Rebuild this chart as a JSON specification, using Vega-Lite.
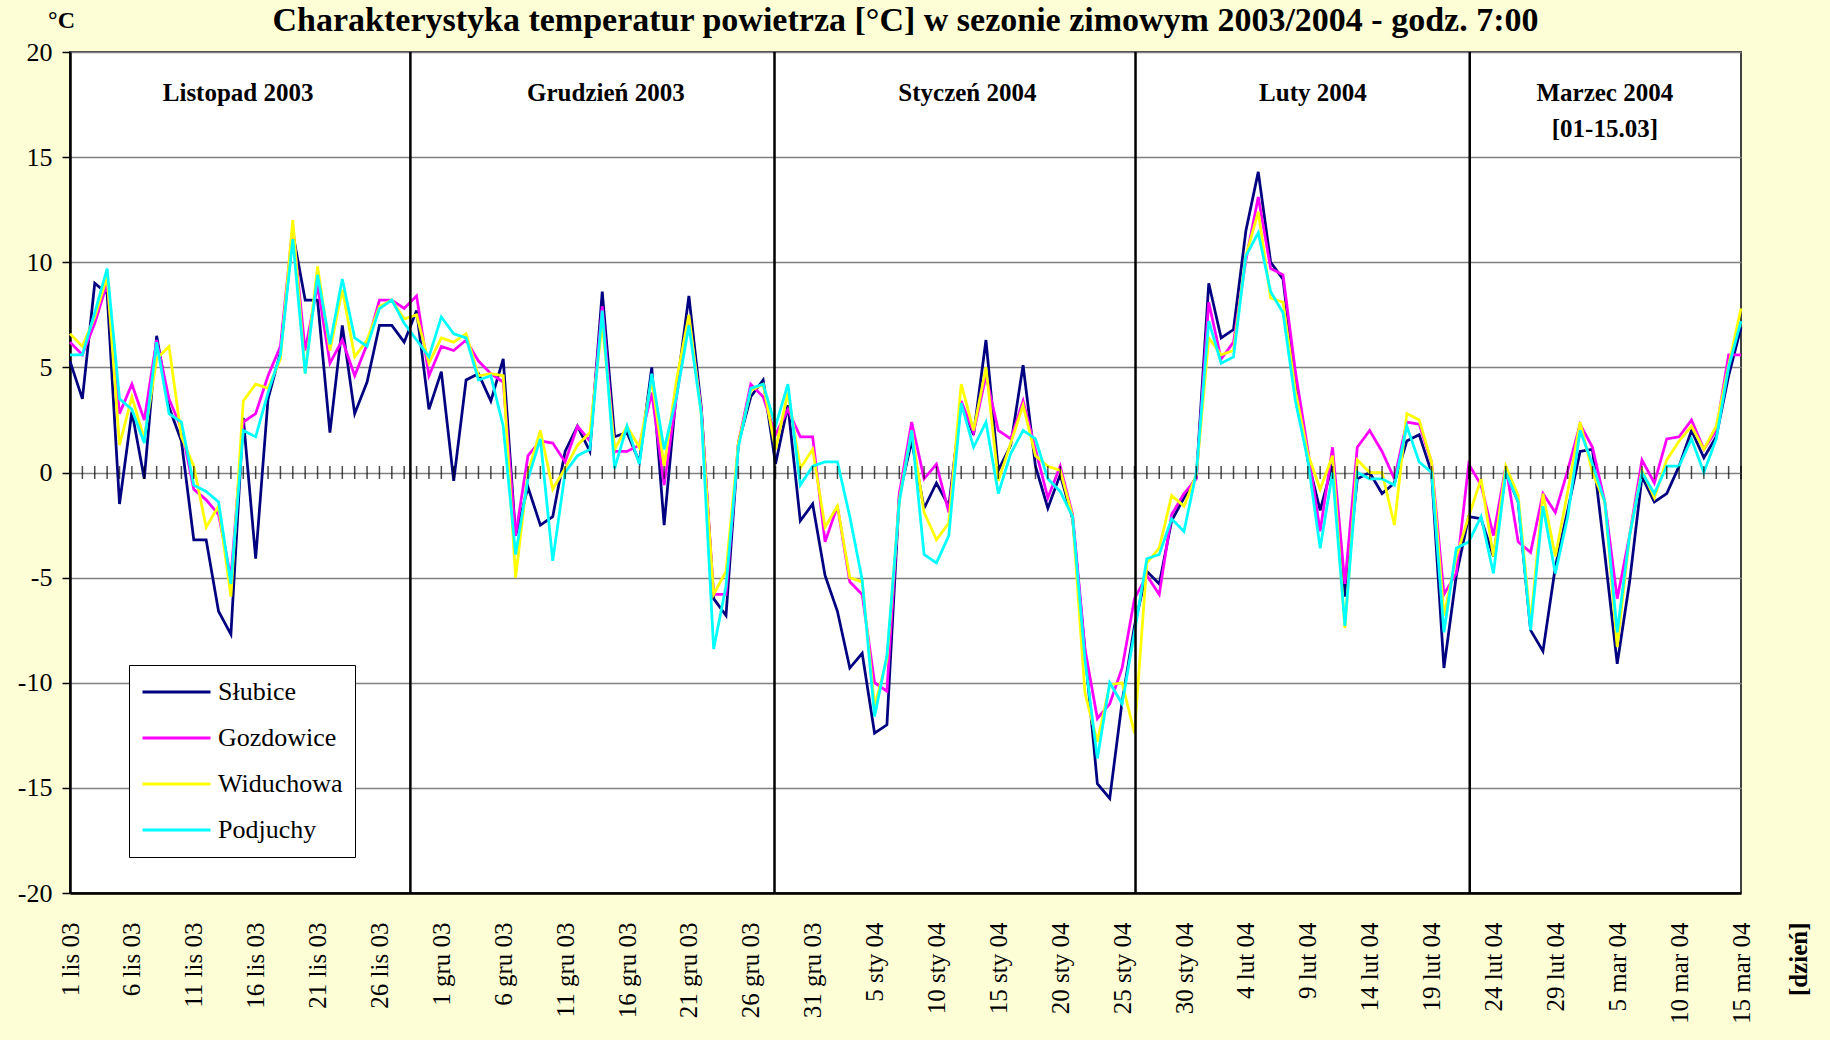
{
  "$schema": "https://vega.github.io/schema/vega-lite/v6.json",
  "width": 1671,
  "height": 841,
  "autosize": {"type": "none"},
  "padding": {"left": 70, "top": 52, "right": 89, "bottom": 147},
  "background": "#FEFED6",
  "title": {
    "text": "Charakterystyka temperatur powietrza [°C] w sezonie zimowym 2003/2004 - godz. 7:00",
    "font": "Liberation Serif", "fontSize": 34, "fontWeight": "bold", "color": "black",
    "anchor": "middle", "frame": "group", "baseline": "alphabetic", "offset": 6, "dy": 63
  },
  "config": {
    "view": {"fill": "white", "stroke": "#404040", "strokeWidth": 2},
    "font": "Liberation Serif"
  },
  "data": {"values": [
    {"data":"2003-11-01T00:00:00","Słubice":5.3,"Gozdowice":6.2,"Widuchowa":6.6,"Podjuchy":5.6},
    {"data":"2003-11-02T00:00:00","Słubice":3.5,"Gozdowice":5.6,"Widuchowa":6.0,"Podjuchy":5.6},
    {"data":"2003-11-03T00:00:00","Słubice":9.0,"Gozdowice":7.1,"Widuchowa":7.4,"Podjuchy":7.6},
    {"data":"2003-11-04T00:00:00","Słubice":8.5,"Gozdowice":9.0,"Widuchowa":9.3,"Podjuchy":9.7},
    {"data":"2003-11-05T00:00:00","Słubice":-1.5,"Gozdowice":2.8,"Widuchowa":1.3,"Podjuchy":3.5},
    {"data":"2003-11-06T00:00:00","Słubice":2.9,"Gozdowice":4.2,"Widuchowa":3.6,"Podjuchy":3.0},
    {"data":"2003-11-07T00:00:00","Słubice":-0.3,"Gozdowice":2.5,"Widuchowa":1.6,"Podjuchy":1.4},
    {"data":"2003-11-08T00:00:00","Słubice":6.5,"Gozdowice":6.3,"Widuchowa":5.4,"Podjuchy":6.2},
    {"data":"2003-11-09T00:00:00","Słubice":3.1,"Gozdowice":3.5,"Widuchowa":6.0,"Podjuchy":2.8},
    {"data":"2003-11-10T00:00:00","Słubice":1.5,"Gozdowice":2.1,"Widuchowa":1.7,"Podjuchy":2.4},
    {"data":"2003-11-11T00:00:00","Słubice":-3.2,"Gozdowice":-0.8,"Widuchowa":0.3,"Podjuchy":-0.6},
    {"data":"2003-11-12T00:00:00","Słubice":-3.2,"Gozdowice":-1.3,"Widuchowa":-2.6,"Podjuchy":-0.9},
    {"data":"2003-11-13T00:00:00","Słubice":-6.6,"Gozdowice":-2.0,"Widuchowa":-1.6,"Podjuchy":-1.4},
    {"data":"2003-11-14T00:00:00","Słubice":-7.7,"Gozdowice":-5.0,"Widuchowa":-5.9,"Podjuchy":-5.3},
    {"data":"2003-11-15T00:00:00","Słubice":2.6,"Gozdowice":2.4,"Widuchowa":3.4,"Podjuchy":2.0},
    {"data":"2003-11-16T00:00:00","Słubice":-4.1,"Gozdowice":2.8,"Widuchowa":4.2,"Podjuchy":1.7},
    {"data":"2003-11-17T00:00:00","Słubice":3.5,"Gozdowice":4.6,"Widuchowa":4.0,"Podjuchy":3.8},
    {"data":"2003-11-18T00:00:00","Słubice":5.7,"Gozdowice":6.0,"Widuchowa":5.4,"Podjuchy":5.6},
    {"data":"2003-11-19T00:00:00","Słubice":11.4,"Gozdowice":11.7,"Widuchowa":12.0,"Podjuchy":11.1},
    {"data":"2003-11-20T00:00:00","Słubice":8.2,"Gozdowice":5.8,"Widuchowa":4.7,"Podjuchy":4.7},
    {"data":"2003-11-21T00:00:00","Słubice":8.2,"Gozdowice":8.9,"Widuchowa":9.8,"Podjuchy":9.4},
    {"data":"2003-11-22T00:00:00","Słubice":1.9,"Gozdowice":5.2,"Widuchowa":5.8,"Podjuchy":6.1},
    {"data":"2003-11-23T00:00:00","Słubice":7.0,"Gozdowice":6.3,"Widuchowa":8.7,"Podjuchy":9.2},
    {"data":"2003-11-24T00:00:00","Słubice":2.8,"Gozdowice":4.6,"Widuchowa":5.5,"Podjuchy":6.4},
    {"data":"2003-11-25T00:00:00","Słubice":4.3,"Gozdowice":6.1,"Widuchowa":6.3,"Podjuchy":6.0},
    {"data":"2003-11-26T00:00:00","Słubice":7.0,"Gozdowice":8.2,"Widuchowa":7.9,"Podjuchy":7.8},
    {"data":"2003-11-27T00:00:00","Słubice":7.0,"Gozdowice":8.2,"Widuchowa":8.2,"Podjuchy":8.2},
    {"data":"2003-11-28T00:00:00","Słubice":6.2,"Gozdowice":7.8,"Widuchowa":7.3,"Podjuchy":7.1},
    {"data":"2003-11-29T00:00:00","Słubice":7.7,"Gozdowice":8.4,"Widuchowa":7.5,"Podjuchy":6.3},
    {"data":"2003-11-30T00:00:00","Słubice":3.0,"Gozdowice":4.6,"Widuchowa":5.2,"Podjuchy":5.5},
    {"data":"2003-12-01T00:00:00","Słubice":4.8,"Gozdowice":6.0,"Widuchowa":6.4,"Podjuchy":7.4},
    {"data":"2003-12-02T00:00:00","Słubice":-0.4,"Gozdowice":5.8,"Widuchowa":6.2,"Podjuchy":6.6},
    {"data":"2003-12-03T00:00:00","Słubice":4.4,"Gozdowice":6.3,"Widuchowa":6.6,"Podjuchy":6.4},
    {"data":"2003-12-04T00:00:00","Słubice":4.7,"Gozdowice":5.3,"Widuchowa":4.6,"Podjuchy":4.4},
    {"data":"2003-12-05T00:00:00","Słubice":3.4,"Gozdowice":4.7,"Widuchowa":4.7,"Podjuchy":4.6},
    {"data":"2003-12-06T00:00:00","Słubice":5.4,"Gozdowice":4.3,"Widuchowa":4.6,"Podjuchy":2.2},
    {"data":"2003-12-07T00:00:00","Słubice":-3.0,"Gozdowice":-3.0,"Widuchowa":-5.0,"Podjuchy":-3.9},
    {"data":"2003-12-08T00:00:00","Słubice":-0.7,"Gozdowice":0.8,"Widuchowa":0.0,"Podjuchy":-0.3},
    {"data":"2003-12-09T00:00:00","Słubice":-2.5,"Gozdowice":1.5,"Widuchowa":2.0,"Podjuchy":1.6},
    {"data":"2003-12-10T00:00:00","Słubice":-2.1,"Gozdowice":1.4,"Widuchowa":-0.8,"Podjuchy":-4.2},
    {"data":"2003-12-11T00:00:00","Słubice":1.0,"Gozdowice":0.5,"Widuchowa":0.2,"Podjuchy":0.0},
    {"data":"2003-12-12T00:00:00","Słubice":2.2,"Gozdowice":2.2,"Widuchowa":1.3,"Podjuchy":0.8},
    {"data":"2003-12-13T00:00:00","Słubice":1.0,"Gozdowice":1.5,"Widuchowa":1.9,"Podjuchy":1.1},
    {"data":"2003-12-14T00:00:00","Słubice":8.6,"Gozdowice":7.9,"Widuchowa":7.1,"Podjuchy":7.7},
    {"data":"2003-12-15T00:00:00","Słubice":1.7,"Gozdowice":1.0,"Widuchowa":1.1,"Podjuchy":0.2},
    {"data":"2003-12-16T00:00:00","Słubice":1.9,"Gozdowice":1.0,"Widuchowa":2.2,"Podjuchy":2.2},
    {"data":"2003-12-17T00:00:00","Słubice":0.5,"Gozdowice":1.3,"Widuchowa":1.2,"Podjuchy":0.4},
    {"data":"2003-12-18T00:00:00","Słubice":5.0,"Gozdowice":3.8,"Widuchowa":4.4,"Podjuchy":4.7},
    {"data":"2003-12-19T00:00:00","Słubice":-2.5,"Gozdowice":-0.6,"Widuchowa":0.3,"Podjuchy":1.1},
    {"data":"2003-12-20T00:00:00","Słubice":3.9,"Gozdowice":3.6,"Widuchowa":4.4,"Podjuchy":3.6},
    {"data":"2003-12-21T00:00:00","Słubice":8.4,"Gozdowice":7.3,"Widuchowa":7.5,"Podjuchy":7.0},
    {"data":"2003-12-22T00:00:00","Słubice":3.1,"Gozdowice":3.0,"Widuchowa":2.8,"Podjuchy":2.8},
    {"data":"2003-12-23T00:00:00","Słubice":-6.0,"Gozdowice":-5.8,"Widuchowa":-5.8,"Podjuchy":-8.4},
    {"data":"2003-12-24T00:00:00","Słubice":-6.8,"Gozdowice":-5.8,"Widuchowa":-4.7,"Podjuchy":-5.4},
    {"data":"2003-12-25T00:00:00","Słubice":1.4,"Gozdowice":1.4,"Widuchowa":1.4,"Podjuchy":1.2},
    {"data":"2003-12-26T00:00:00","Słubice":3.6,"Gozdowice":4.2,"Widuchowa":3.9,"Podjuchy":4.0},
    {"data":"2003-12-27T00:00:00","Słubice":4.4,"Gozdowice":3.6,"Widuchowa":4.2,"Podjuchy":4.2},
    {"data":"2003-12-28T00:00:00","Słubice":0.4,"Gozdowice":1.8,"Widuchowa":1.1,"Podjuchy":2.2},
    {"data":"2003-12-29T00:00:00","Słubice":3.2,"Gozdowice":3.0,"Widuchowa":3.8,"Podjuchy":4.2},
    {"data":"2003-12-30T00:00:00","Słubice":-2.3,"Gozdowice":1.7,"Widuchowa":0.2,"Podjuchy":-0.6},
    {"data":"2003-12-31T00:00:00","Słubice":-1.5,"Gozdowice":1.7,"Widuchowa":1.1,"Podjuchy":0.3},
    {"data":"2004-01-01T00:00:00","Słubice":-4.9,"Gozdowice":-3.3,"Widuchowa":-2.6,"Podjuchy":0.5},
    {"data":"2004-01-02T00:00:00","Słubice":-6.6,"Gozdowice":-1.6,"Widuchowa":-1.6,"Podjuchy":0.5},
    {"data":"2004-01-03T00:00:00","Słubice":-9.3,"Gozdowice":-5.2,"Widuchowa":-5.0,"Podjuchy":-2.1},
    {"data":"2004-01-04T00:00:00","Słubice":-8.6,"Gozdowice":-5.8,"Widuchowa":-5.2,"Podjuchy":-5.1},
    {"data":"2004-01-05T00:00:00","Słubice":-12.4,"Gozdowice":-10.0,"Widuchowa":-11.1,"Podjuchy":-11.6},
    {"data":"2004-01-06T00:00:00","Słubice":-12.0,"Gozdowice":-10.4,"Widuchowa":-8.9,"Podjuchy":-8.7},
    {"data":"2004-01-07T00:00:00","Słubice":-1.1,"Gozdowice":-1.0,"Widuchowa":-1.3,"Podjuchy":-1.4},
    {"data":"2004-01-08T00:00:00","Słubice":1.5,"Gozdowice":2.4,"Widuchowa":2.0,"Podjuchy":2.0},
    {"data":"2004-01-09T00:00:00","Słubice":-1.7,"Gozdowice":-0.3,"Widuchowa":-1.9,"Podjuchy":-3.9},
    {"data":"2004-01-10T00:00:00","Słubice":-0.5,"Gozdowice":0.4,"Widuchowa":-3.2,"Podjuchy":-4.3},
    {"data":"2004-01-11T00:00:00","Słubice":-1.6,"Gozdowice":-1.9,"Widuchowa":-2.4,"Podjuchy":-3.0},
    {"data":"2004-01-12T00:00:00","Słubice":3.3,"Gozdowice":3.4,"Widuchowa":4.2,"Podjuchy":3.3},
    {"data":"2004-01-13T00:00:00","Słubice":1.8,"Gozdowice":1.9,"Widuchowa":2.0,"Podjuchy":1.2},
    {"data":"2004-01-14T00:00:00","Słubice":6.3,"Gozdowice":4.6,"Widuchowa":5.0,"Podjuchy":2.4},
    {"data":"2004-01-15T00:00:00","Słubice":0.1,"Gozdowice":2.0,"Widuchowa":-0.4,"Podjuchy":-1.0},
    {"data":"2004-01-16T00:00:00","Słubice":1.3,"Gozdowice":1.6,"Widuchowa":1.4,"Podjuchy":0.9},
    {"data":"2004-01-17T00:00:00","Słubice":5.1,"Gozdowice":3.4,"Widuchowa":3.2,"Podjuchy":2.0},
    {"data":"2004-01-18T00:00:00","Słubice":0.3,"Gozdowice":1.1,"Widuchowa":0.8,"Podjuchy":1.6},
    {"data":"2004-01-19T00:00:00","Słubice":-1.7,"Gozdowice":-1.2,"Widuchowa":0.3,"Podjuchy":-0.3},
    {"data":"2004-01-20T00:00:00","Słubice":-0.1,"Gozdowice":0.3,"Widuchowa":0.1,"Podjuchy":-0.9},
    {"data":"2004-01-21T00:00:00","Słubice":-2.2,"Gozdowice":-2.0,"Widuchowa":-2.1,"Podjuchy":-2.1},
    {"data":"2004-01-22T00:00:00","Słubice":-8.5,"Gozdowice":-8.4,"Widuchowa":-10.5,"Podjuchy":-8.9},
    {"data":"2004-01-23T00:00:00","Słubice":-14.8,"Gozdowice":-11.7,"Widuchowa":-12.8,"Podjuchy":-13.6},
    {"data":"2004-01-24T00:00:00","Słubice":-15.5,"Gozdowice":-11.0,"Widuchowa":-10.1,"Podjuchy":-10.0},
    {"data":"2004-01-25T00:00:00","Słubice":-10.9,"Gozdowice":-9.3,"Widuchowa":-10.0,"Podjuchy":-11.0},
    {"data":"2004-01-26T00:00:00","Słubice":-7.3,"Gozdowice":-6.0,"Widuchowa":-12.4,"Podjuchy":-7.6},
    {"data":"2004-01-27T00:00:00","Słubice":-4.7,"Gozdowice":-4.9,"Widuchowa":-4.3,"Podjuchy":-4.1},
    {"data":"2004-01-28T00:00:00","Słubice":-5.3,"Gozdowice":-5.8,"Widuchowa":-3.6,"Podjuchy":-3.9},
    {"data":"2004-01-29T00:00:00","Słubice":-2.3,"Gozdowice":-2.0,"Widuchowa":-1.1,"Podjuchy":-2.2},
    {"data":"2004-01-30T00:00:00","Słubice":-1.2,"Gozdowice":-1.0,"Widuchowa":-1.6,"Podjuchy":-2.8},
    {"data":"2004-01-31T00:00:00","Słubice":-0.2,"Gozdowice":-0.3,"Widuchowa":-0.1,"Podjuchy":0.0},
    {"data":"2004-02-01T00:00:00","Słubice":9.0,"Gozdowice":8.1,"Widuchowa":6.4,"Podjuchy":7.2},
    {"data":"2004-02-02T00:00:00","Słubice":6.4,"Gozdowice":5.4,"Widuchowa":5.6,"Podjuchy":5.2},
    {"data":"2004-02-03T00:00:00","Słubice":6.8,"Gozdowice":6.2,"Widuchowa":5.8,"Podjuchy":5.5},
    {"data":"2004-02-04T00:00:00","Słubice":11.5,"Gozdowice":10.1,"Widuchowa":10.3,"Podjuchy":10.3},
    {"data":"2004-02-05T00:00:00","Słubice":14.3,"Gozdowice":13.1,"Widuchowa":12.4,"Podjuchy":11.4},
    {"data":"2004-02-06T00:00:00","Słubice":10.0,"Gozdowice":9.7,"Widuchowa":8.3,"Podjuchy":8.6},
    {"data":"2004-02-07T00:00:00","Słubice":9.2,"Gozdowice":9.4,"Widuchowa":8.1,"Podjuchy":7.6},
    {"data":"2004-02-08T00:00:00","Słubice":4.3,"Gozdowice":4.8,"Widuchowa":3.9,"Podjuchy":3.4},
    {"data":"2004-02-09T00:00:00","Słubice":0.6,"Gozdowice":1.1,"Widuchowa":0.9,"Podjuchy":0.6},
    {"data":"2004-02-10T00:00:00","Słubice":-1.8,"Gozdowice":-2.8,"Widuchowa":-0.8,"Podjuchy":-3.6},
    {"data":"2004-02-11T00:00:00","Słubice":0.4,"Gozdowice":1.2,"Widuchowa":0.8,"Podjuchy":0.0},
    {"data":"2004-02-12T00:00:00","Słubice":-5.9,"Gozdowice":-5.3,"Widuchowa":-7.4,"Podjuchy":-7.3},
    {"data":"2004-02-13T00:00:00","Słubice":-0.3,"Gozdowice":1.2,"Widuchowa":0.6,"Podjuchy":0.0},
    {"data":"2004-02-14T00:00:00","Słubice":0.0,"Gozdowice":2.0,"Widuchowa":0.0,"Podjuchy":-0.3},
    {"data":"2004-02-15T00:00:00","Słubice":-1.0,"Gozdowice":1.0,"Widuchowa":0.0,"Podjuchy":-0.3},
    {"data":"2004-02-16T00:00:00","Słubice":-0.5,"Gozdowice":-0.3,"Widuchowa":-2.5,"Podjuchy":-0.6},
    {"data":"2004-02-17T00:00:00","Słubice":1.5,"Gozdowice":2.4,"Widuchowa":2.8,"Podjuchy":2.2},
    {"data":"2004-02-18T00:00:00","Słubice":1.8,"Gozdowice":2.3,"Widuchowa":2.5,"Podjuchy":0.5},
    {"data":"2004-02-19T00:00:00","Słubice":0.0,"Gozdowice":0.5,"Widuchowa":0.5,"Podjuchy":0.0},
    {"data":"2004-02-20T00:00:00","Słubice":-9.3,"Gozdowice":-5.8,"Widuchowa":-6.8,"Podjuchy":-7.6},
    {"data":"2004-02-21T00:00:00","Słubice":-4.9,"Gozdowice":-4.8,"Widuchowa":-4.0,"Podjuchy":-3.6},
    {"data":"2004-02-22T00:00:00","Słubice":-2.1,"Gozdowice":0.4,"Widuchowa":-2.1,"Podjuchy":-3.3},
    {"data":"2004-02-23T00:00:00","Słubice":-2.2,"Gozdowice":-0.6,"Widuchowa":-0.3,"Podjuchy":-2.1},
    {"data":"2004-02-24T00:00:00","Słubice":-4.0,"Gozdowice":-3.0,"Widuchowa":-4.0,"Podjuchy":-4.8},
    {"data":"2004-02-25T00:00:00","Słubice":0.0,"Gozdowice":0.3,"Widuchowa":0.3,"Podjuchy":0.0},
    {"data":"2004-02-26T00:00:00","Słubice":-1.4,"Gozdowice":-3.3,"Widuchowa":-1.1,"Podjuchy":-1.4},
    {"data":"2004-02-27T00:00:00","Słubice":-7.5,"Gozdowice":-3.8,"Widuchowa":-7.2,"Podjuchy":-7.5},
    {"data":"2004-02-28T00:00:00","Słubice":-8.5,"Gozdowice":-1.0,"Widuchowa":-1.0,"Podjuchy":-1.6},
    {"data":"2004-02-29T00:00:00","Słubice":-4.5,"Gozdowice":-1.9,"Widuchowa":-4.0,"Podjuchy":-4.8},
    {"data":"2004-03-01T00:00:00","Słubice":-1.8,"Gozdowice":0.1,"Widuchowa":-0.9,"Podjuchy":-2.1},
    {"data":"2004-03-02T00:00:00","Słubice":1.0,"Gozdowice":2.3,"Widuchowa":2.4,"Podjuchy":2.0},
    {"data":"2004-03-03T00:00:00","Słubice":1.1,"Gozdowice":1.2,"Widuchowa":0.0,"Podjuchy":0.4},
    {"data":"2004-03-04T00:00:00","Słubice":-3.9,"Gozdowice":-1.4,"Widuchowa":-1.4,"Podjuchy":-1.4},
    {"data":"2004-03-05T00:00:00","Słubice":-9.1,"Gozdowice":-6.0,"Widuchowa":-8.3,"Podjuchy":-7.6},
    {"data":"2004-03-06T00:00:00","Słubice":-5.2,"Gozdowice":-3.0,"Widuchowa":-3.0,"Podjuchy":-3.0},
    {"data":"2004-03-07T00:00:00","Słubice":-0.2,"Gozdowice":0.6,"Widuchowa":0.1,"Podjuchy":0.0},
    {"data":"2004-03-08T00:00:00","Słubice":-1.4,"Gozdowice":-0.5,"Widuchowa":-1.2,"Podjuchy":-1.0},
    {"data":"2004-03-09T00:00:00","Słubice":-1.0,"Gozdowice":1.6,"Widuchowa":0.6,"Podjuchy":0.3},
    {"data":"2004-03-10T00:00:00","Słubice":0.3,"Gozdowice":1.7,"Widuchowa":1.5,"Podjuchy":0.3},
    {"data":"2004-03-11T00:00:00","Słubice":2.0,"Gozdowice":2.5,"Widuchowa":2.2,"Podjuchy":1.6},
    {"data":"2004-03-12T00:00:00","Słubice":0.7,"Gozdowice":1.1,"Widuchowa":1.1,"Podjuchy":0.0},
    {"data":"2004-03-13T00:00:00","Słubice":1.7,"Gozdowice":2.0,"Widuchowa":2.2,"Podjuchy":1.6},
    {"data":"2004-03-14T00:00:00","Słubice":4.6,"Gozdowice":5.6,"Widuchowa":5.1,"Podjuchy":5.0},
    {"data":"2004-03-15T00:00:00","Słubice":6.9,"Gozdowice":5.6,"Widuchowa":7.8,"Podjuchy":7.2}
  ]},
  "encoding": {
    "x": {
      "field": "data", "type": "temporal",
      "scale": {"domain": [{"year": 2003, "month": 11, "date": 1}, {"year": 2004, "month": 3, "date": 15}], "nice": false},
      "axis": {
        "values": [
          {"year": 2003, "month": 11, "date": 1}, {"year": 2003, "month": 11, "date": 6}, {"year": 2003, "month": 11, "date": 11},
          {"year": 2003, "month": 11, "date": 16}, {"year": 2003, "month": 11, "date": 21}, {"year": 2003, "month": 11, "date": 26},
          {"year": 2003, "month": 12, "date": 1}, {"year": 2003, "month": 12, "date": 6}, {"year": 2003, "month": 12, "date": 11},
          {"year": 2003, "month": 12, "date": 16}, {"year": 2003, "month": 12, "date": 21}, {"year": 2003, "month": 12, "date": 26},
          {"year": 2003, "month": 12, "date": 31}, {"year": 2004, "month": 1, "date": 5}, {"year": 2004, "month": 1, "date": 10},
          {"year": 2004, "month": 1, "date": 15}, {"year": 2004, "month": 1, "date": 20}, {"year": 2004, "month": 1, "date": 25},
          {"year": 2004, "month": 1, "date": 30}, {"year": 2004, "month": 2, "date": 4}, {"year": 2004, "month": 2, "date": 9},
          {"year": 2004, "month": 2, "date": 14}, {"year": 2004, "month": 2, "date": 19}, {"year": 2004, "month": 2, "date": 24},
          {"year": 2004, "month": 2, "date": 29}, {"year": 2004, "month": 3, "date": 5}, {"year": 2004, "month": 3, "date": 10},
          {"year": 2004, "month": 3, "date": 15}
        ],
        "labelExpr": "date(datum.value) + ' ' + ['sty','lut','mar','kwi','maj','cze','lip','sie','wrz','paź','lis','gru'][month(datum.value)] + ' ' + timeFormat(datum.value, '%y')",
        "labelAngle": -90, "labelAlign": "right", "labelBaseline": "middle",
        "labelFont": "Liberation Serif", "labelFontSize": 25, "labelColor": "black",
        "labelPadding": 29, "labelOverlap": false, "labelFlush": false,
        "ticks": false, "grid": false,
        "domain": true, "domainColor": "black", "domainWidth": 2.5,
        "title": "[dzień]", "titleFont": "Liberation Serif", "titleFontSize": 25, "titleFontWeight": "bold",
        "titleColor": "black", "titleAngle": -90, "titleAlign": "right", "titleBaseline": "middle",
        "titleX": 1728, "titleY": 29
      }
    }
  },
  "layer": [
    {
      "transform": [{"fold": ["Słubice", "Gozdowice", "Widuchowa", "Podjuchy"], "as": ["stacja", "temp"]}],
      "mark": {"type": "line", "strokeWidth": 2.75},
      "encoding": {
        "y": {
          "field": "temp", "type": "quantitative",
          "scale": {"domain": [-20, 20], "nice": false},
          "axis": {
            "values": [-20, -15, -10, -5, 0, 5, 10, 15, 20],
            "labelExpr": "'' + datum.value",
            "title": "°C", "titleAngle": 0, "titleX": -9, "titleY": -32, "titleAlign": "center", "titleBaseline": "middle",
            "titleFont": "Liberation Serif", "titleFontSize": 24, "titleFontWeight": "bold", "titleColor": "black",
            "labelFont": "Liberation Serif", "labelFontSize": 26, "labelColor": "black", "labelPadding": 10,
            "labelOverlap": false, "labelFlush": false,
            "tickSize": 8, "tickColor": "black", "tickWidth": 1.5,
            "domainColor": "black", "domainWidth": 2.5,
            "gridColor": "#808080", "gridWidth": 1.5
          }
        },
        "color": {
          "field": "stacja", "type": "nominal",
          "scale": {"domain": ["Słubice", "Gozdowice", "Widuchowa", "Podjuchy"], "range": ["#000080", "#FF00FF", "#FFFF00", "#00FFFF"]},
          "legend": {
            "title": null, "orient": "none", "legendX": 59, "legendY": 613, "direction": "vertical",
            "symbolType": "stroke", "symbolSize": 4624, "symbolStrokeWidth": 3,
            "labelFont": "Liberation Serif", "labelFontSize": 26, "labelColor": "black", "labelOffset": 6, "labelLimit": 400,
            "clipHeight": 30, "rowPadding": 16, "padding": 12,
            "strokeColor": "black", "fillColor": "white"
          }
        }
      }
    },
    {
      "mark": {"type": "tick", "orient": "vertical", "size": 13, "thickness": 1.5, "color": "black"},
      "encoding": {"y": {"datum": 0, "type": "quantitative"}}
    },
    {
      "data": {"values": [
        {"data": "2003-11-28T12:00:00"},
        {"data": "2003-12-27T22:00:00"},
        {"data": "2004-01-26T02:00:00"},
        {"data": "2004-02-22T02:00:00"}
      ]},
      "mark": {"type": "rule", "color": "black", "strokeWidth": 2.5},
      "encoding": {}
    },
    {
      "data": {"values": [
        {"data": "2003-11-14T14:00:00", "etykieta": "Listopad 2003"},
        {"data": "2003-12-14T07:00:00", "etykieta": "Grudzień 2003"},
        {"data": "2004-01-12T12:00:00", "etykieta": "Styczeń 2004"},
        {"data": "2004-02-09T10:00:00", "etykieta": "Luty 2004"},
        {"data": "2004-03-04T00:00:00", "etykieta": "Marzec 2004\n[01-15.03]"}
      ]},
      "mark": {"type": "text", "font": "Liberation Serif", "fontSize": 25, "fontWeight": "bold", "color": "black",
               "baseline": "top", "align": "center", "lineBreak": "\n", "lineHeight": 36},
      "encoding": {
        "y": {"datum": 18.6, "type": "quantitative"},
        "text": {"field": "etykieta", "type": "nominal"}
      }
    }
  ]
}
